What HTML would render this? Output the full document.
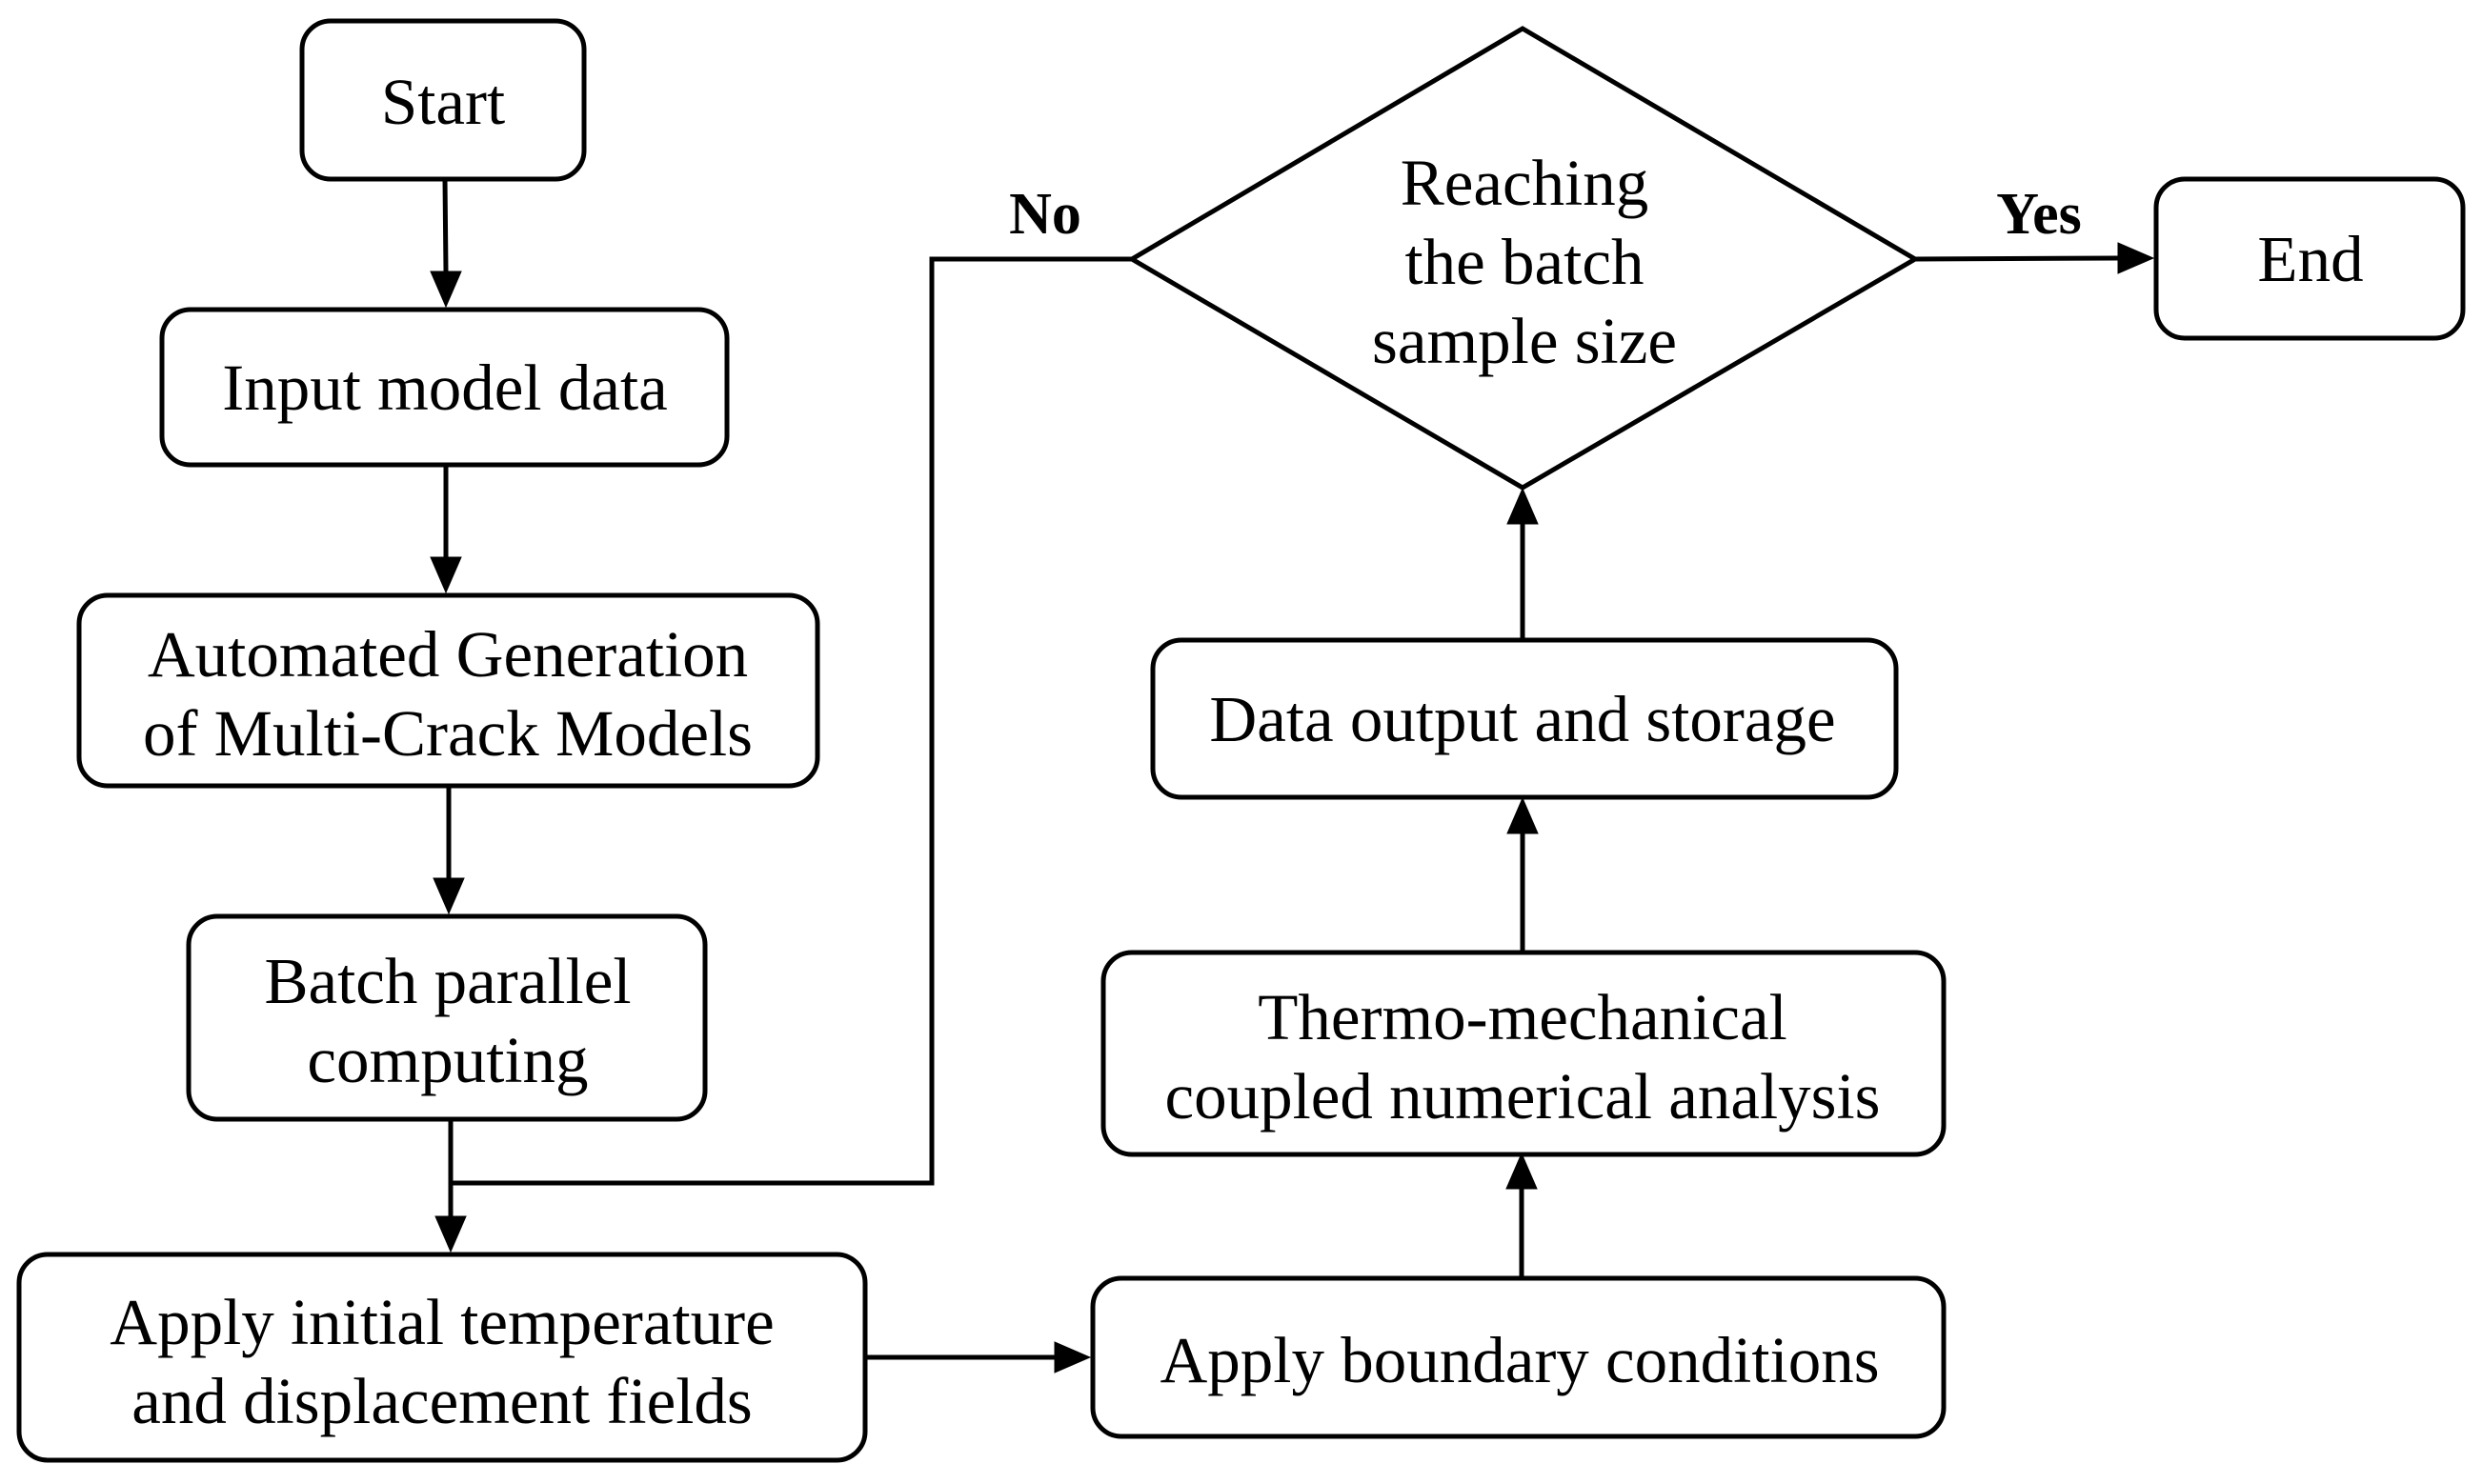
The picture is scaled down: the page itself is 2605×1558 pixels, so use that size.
<!DOCTYPE html>
<html><head><meta charset="utf-8"><style>html,body{margin:0;padding:0;background:#fff}svg{display:block}</style></head>
<body>
<svg width="2605" height="1558" viewBox="0 0 2605 1558" xmlns="http://www.w3.org/2000/svg">
<g fill="none" stroke="#000" stroke-width="5">
<rect x="317" y="22" width="296" height="166" rx="30"/>
<rect x="170" y="325" width="593" height="163" rx="30"/>
<rect x="83" y="625" width="775" height="200" rx="30"/>
<rect x="198" y="962" width="542" height="213" rx="30"/>
<rect x="20" y="1317" width="888" height="216" rx="30"/>
<rect x="1147" y="1342" width="893" height="166" rx="30"/>
<rect x="1158" y="1000" width="882" height="212" rx="30"/>
<rect x="1210" y="672" width="780" height="165" rx="30"/>
<rect x="2263" y="188" width="322" height="167" rx="30"/>
<polygon points="1188,272 1598,30 2010,272 1598,512"/>
<polyline points="1188,272 978,272 978,1242 475,1242"/>
</g>
<g stroke="#000" stroke-width="5" fill="#000">
<path d="M467,188 L468,285" />
<path d="M452,285 L484,285 L468,322 z" stroke-width="1"/>
<path d="M468,488 L468,585"/>
<path d="M452,585 L484,585 L468,622 z" stroke-width="1"/>
<path d="M471,825 L471,922"/>
<path d="M455,922 L487,922 L471,959 z" stroke-width="1"/>
<path d="M473,1175 L473,1277"/>
<path d="M457,1277 L489,1277 L473,1314 z" stroke-width="1"/>
<path d="M908,1425 L1107,1425"/>
<path d="M1107,1409 L1107,1441 L1144,1425 z" stroke-width="1"/>
<path d="M1597,1342 L1597,1248"/>
<path d="M1581,1248 L1613,1248 L1597,1211 z" stroke-width="1"/>
<path d="M1598,1000 L1598,875"/>
<path d="M1582,875 L1614,875 L1598,838 z" stroke-width="1"/>
<path d="M1598,672 L1598,550"/>
<path d="M1582,550 L1614,550 L1598,513 z" stroke-width="1"/>
<path d="M2010,272 L2223,271"/>
<path d="M2223,255 L2223,287 L2260,271 z" stroke-width="1"/>
</g>
<g font-family="Liberation Serif, serif" font-size="69" text-anchor="middle" fill="#000">
<text x="465" y="130">Start</text>
<text x="467" y="430">Input model data</text>
<text x="470" y="710">Automated Generation</text>
<text x="470" y="793">of Multi-Crack Models</text>
<text x="470" y="1053">Batch parallel</text>
<text x="470" y="1136">computing</text>
<text x="464" y="1411">Apply initial temperature</text>
<text x="464" y="1494">and displacement fields</text>
<text x="1595" y="1451">Apply boundary conditions</text>
<text x="1598" y="1091">Thermo-mechanical</text>
<text x="1598" y="1174">coupled numerical analysis</text>
<text x="1598" y="778">Data output and storage</text>
<text x="1600" y="215">Reaching</text>
<text x="1600" y="298">the batch</text>
<text x="1600" y="381">sample size</text>
<text x="2425" y="295">End</text>
<text x="1097" y="245" font-weight="bold" font-size="62">No</text>
<text x="2140" y="245" font-weight="bold" font-size="62">Yes</text>
</g>
</svg>
</body></html>
